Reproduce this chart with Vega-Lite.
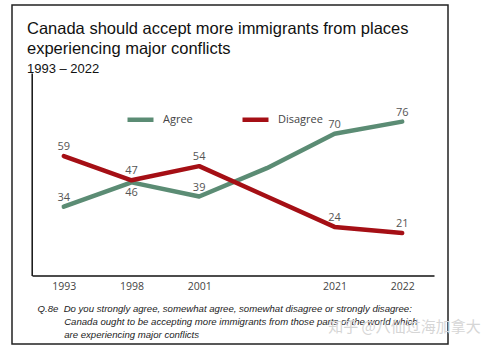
{
  "$schema": "https://vega.github.io/schema/vega-lite/v6.json",
  "width": 436,
  "height": 339,
  "autosize": {"type": "none"},
  "padding": {"left": 12, "top": 5, "right": 41, "bottom": 6},
  "background": "white",
  "config": {
    "view": {"stroke": "#222", "strokeWidth": 1.5},
    "font": "Liberation Sans"
  },
  "title": {
    "text": ["Canada should accept more immigrants from places", "experiencing major conflicts"],
    "subtitle": "1993 – 2022",
    "anchor": "start",
    "frame": "group",
    "dx": 15,
    "offset": -71,
    "font": "Liberation Sans",
    "fontSize": 16.5,
    "fontWeight": "normal",
    "color": "#111",
    "lineHeight": 20,
    "subtitleFont": "Liberation Sans",
    "subtitleFontSize": 13,
    "subtitleColor": "#111",
    "subtitlePadding": 6
  },
  "data": {
    "values": [
      {"year": "1993", "series": "Agree", "pct": 34},
      {"year": "1998", "series": "Agree", "pct": 46},
      {"year": "2001", "series": "Agree", "pct": 39},
      {"year": "—", "series": "Agree", "pct": 53},
      {"year": "2021", "series": "Agree", "pct": 70},
      {"year": "2022", "series": "Agree", "pct": 76},
      {"year": "1993", "series": "Disagree", "pct": 59},
      {"year": "1998", "series": "Disagree", "pct": 47},
      {"year": "2001", "series": "Disagree", "pct": 54},
      {"year": "—", "series": "Disagree", "pct": 39},
      {"year": "2021", "series": "Disagree", "pct": 24},
      {"year": "2022", "series": "Disagree", "pct": 21}
    ]
  },
  "encoding": {
    "x": {
      "field": "year",
      "type": "ordinal",
      "sort": ["1993", "1998", "2001", "—", "2021", "2022"],
      "scale": {"type": "point", "range": [20, 422], "padding": 0.47},
      "axis": {
        "orient": "bottom",
        "offset": -68.5,
        "domainColor": "#111",
        "domainWidth": 1.5,
        "ticks": false,
        "grid": false,
        "labelAngle": 0,
        "labelPadding": 6,
        "labelFont": "Open Sans",
        "labelFontSize": 10.5,
        "labelColor": "#444",
        "labelExpr": "datum.label == '—' ? '' : datum.label",
        "title": [
          "Q.8e\u00a0\u00a0Do you strongly agree, somewhat agree, somewhat disagree or strongly disagree:",
          "\u200b\u00a0\u00a0\u00a0\u00a0\u00a0\u00a0\u00a0\u00a0\u00a0\u00a0Canada ought to be accepting more immigrants from those parts of the world which",
          "\u200b\u00a0\u00a0\u00a0\u00a0\u00a0\u00a0\u00a0\u00a0\u00a0\u00a0are experiencing major conflicts"
        ],
        "titleFont": "Liberation Sans",
        "titleFontStyle": "italic",
        "titleFontWeight": "normal",
        "titleFontSize": 9.6,
        "titleLineHeight": 13,
        "titleColor": "#222",
        "titleAlign": "left",
        "titleAnchor": "start",
        "titleBaseline": "top",
        "titleX": 25,
        "titleY": 28
      }
    },
    "y": {
      "field": "pct",
      "type": "quantitative",
      "scale": {"domain": [0, 100], "range": [270.5, 68], "nice": false, "zero": true},
      "axis": {
        "orient": "left",
        "offset": -19.7,
        "domainColor": "#111",
        "domainWidth": 1.5,
        "ticks": false,
        "labels": false,
        "grid": false,
        "title": "知乎 @八仙过海加拿大",
        "titleAngle": 0,
        "titleFont": "Noto Sans CJK SC",
        "titleFontWeight": "normal",
        "titleFontSize": 15,
        "titleColor": "#d6d6d6",
        "titleAlign": "left",
        "titleBaseline": "alphabetic",
        "titleX": 296,
        "titleY": 326
      }
    }
  },
  "layer": [
    {
      "mark": {"type": "line", "strokeWidth": 4.5, "strokeCap": "round", "strokeJoin": "round"},
      "encoding": {
        "color": {
          "field": "series",
          "type": "nominal",
          "scale": {"domain": ["Agree", "Disagree"], "range": ["#5b8c74", "#a50f15"]},
          "legend": {
            "orient": "none",
            "legendX": 113,
            "legendY": 99,
            "direction": "horizontal",
            "title": null,
            "symbolType": "stroke",
            "symbolSize": 676,
            "symbolStrokeWidth": 4.5,
            "labelOffset": 7,
            "labelFont": "Open Sans",
            "labelFontSize": 11,
            "labelColor": "#444",
            "columnPadding": 40,
            "padding": 0
          }
        }
      }
    },
    {
      "transform": [
        {"filter": "datum.year != '—' && !(datum.series == 'Agree' && datum.year == '1998')"}
      ],
      "mark": {"type": "text", "baseline": "bottom", "dy": -4, "font": "Open Sans", "fontSize": 11, "color": "#555"},
      "encoding": {"text": {"field": "pct", "type": "quantitative"}}
    },
    {
      "transform": [
        {"filter": "datum.series == 'Agree' && datum.year == '1998'"}
      ],
      "mark": {"type": "text", "baseline": "top", "dy": 5, "font": "Open Sans", "fontSize": 11, "color": "#555"},
      "encoding": {"text": {"field": "pct", "type": "quantitative"}}
    }
  ]
}
